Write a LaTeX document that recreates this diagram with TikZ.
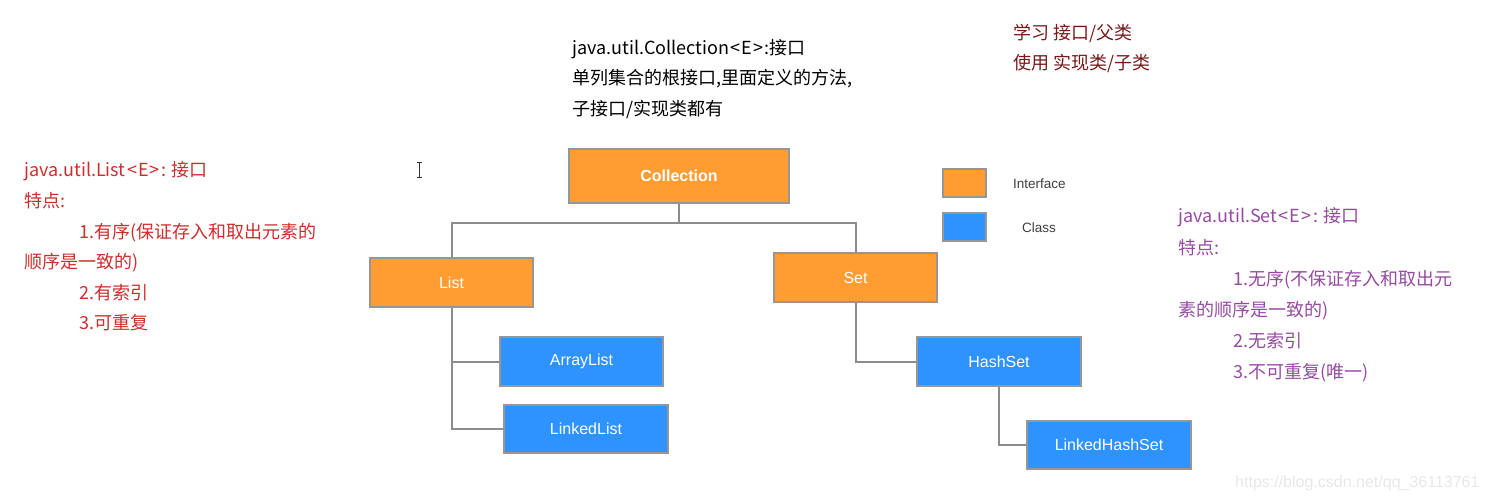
\documentclass[tikz,border=0pt]{standalone}
\usepackage{fontspec}
\setmainfont{Noto Sans CJK SC}
\newfontfamily\boxfont{Liberation Sans}
\definecolor{ifaceorange}{RGB}{255,157,51}
\definecolor{classblue}{RGB}{46,146,255}
\definecolor{boxborder}{RGB}{150,150,150}
\definecolor{connline}{RGB}{140,140,140}
\definecolor{listred}{RGB}{205,45,45}
\definecolor{setpurple}{RGB}{150,75,160}
\definecolor{noteRed}{RGB}{120,25,25}
\definecolor{wmark}{RGB}{232,232,232}
\newcommand{\gen}{\kern1.5pt<\kern1pt E\kern1pt>\kern1.5pt}
\begin{document}
\begin{tikzpicture}[x=1pt,y=-1pt,
  boxbase/.style={draw=boxborder, line width=1.5pt, inner sep=0pt, text=white,
    font=\boxfont\fontsize{16}{16}\selectfont},
  iface/.style={boxbase, fill=ifaceorange},
  klass/.style={boxbase, fill=classblue},
  conn/.style={draw=connline, line width=2pt},
  txt/.style={anchor=base west, inner sep=0pt, font=\fontsize{18}{20}\selectfont},
  legendtxt/.style={anchor=base west, inner sep=0pt, text=black!75, font=\boxfont\fontsize{13.5}{14}\selectfont}
]
\useasboundingbox (0,0) rectangle (1485,501);
\fill[white] (0,0) rectangle (1485,501);

% connectors (drawn first, under the boxes)
\node[iface, minimum width=220pt, minimum height=54pt, font=\boxfont\bfseries\fontsize{16}{16}\selectfont] (coll) at (679,176) {Collection};
\node[iface, minimum width=163pt, minimum height=49pt] (list) at (451.5,282.5) {List};
\node[iface, minimum width=163pt, minimum height=49pt] (set) at (855.5,277.5) {Set};
\node[klass, minimum width=163pt, minimum height=49pt] (al) at (581.5,361.5) {ArrayList};
\node[klass, minimum width=164pt, minimum height=48pt] (ll) at (586,429) {LinkedList};
\node[klass, minimum width=164pt, minimum height=49pt] (hs) at (999,361.5) {HashSet};
\node[klass, minimum width=164pt, minimum height=48pt] (lhs) at (1109,445) {LinkedHashSet};

\coordinate (split) at ([yshift=-19pt]coll.south);
\draw[conn] (coll.south) -- (split);
\draw[conn] (split) -| (list.north);
\draw[conn] (split) -| (set.north);
\draw[conn] (list.south) |- (al.west);
\draw[conn] (list.south) |- (ll.west);
\draw[conn] (set.south) |- (hs.west);
\draw[conn] (hs.south) |- (lhs.west);

% legend
\node[iface, minimum width=43pt, minimum height=28pt] (legI) at (964.5,183) {};
\node[klass, minimum width=43pt, minimum height=28pt] (legC) at (964.5,227) {};
\node[legendtxt] (legIt) at (1013,188) {Interface};
\node[legendtxt] (legCt) at (1022,232) {Class};

% top center note
\node[txt] (c1) at (572,54) {java.util.Collection\gen:接口};
\node[txt] (c2) at (572,84) {单列集合的根接口,里面定义的方法,};
\node[txt] (c3) at (572,115) {子接口/实现类都有};

% top right note
\node[txt, text=noteRed] (n1) at (1013,39) {学习 接口/父类};
\node[txt, text=noteRed] (n2) at (1013,69) {使用 实现类/子类};

% left (List) note
\node[txt, text=listred] (l1) at (24,176) {java.util.List\gen: 接口};
\node[txt, text=listred] (l2) at (24,207) {特点:};
\node[txt, text=listred] (l3) at (79,238) {1.有序(保证存入和取出元素的};
\node[txt, text=listred] (l4) at (24,268) {顺序是一致的)};
\node[txt, text=listred] (l5) at (79,299) {2.有索引};
\node[txt, text=listred] (l6) at (79,329) {3.可重复};

% right (Set) note
\node[txt, text=setpurple] (s1) at (1178,222) {java.util.Set\gen: 接口};
\node[txt, text=setpurple] (s2) at (1178,254) {特点:};
\node[txt, text=setpurple] (s3) at (1233,285) {1.无序(不保证存入和取出元};
\node[txt, text=setpurple] (s4) at (1178,316) {素的顺序是一致的)};
\node[txt, text=setpurple] (s5) at (1233,347) {2.无索引};
\node[txt, text=setpurple] (s6) at (1233,378) {3.不可重复(唯一)};

% text cursor
\draw[black!80, line width=1pt] (419,163) -- (419,177) (416.5,162.5) -- (421.5,162.5) (416.5,177.5) -- (421.5,177.5);

% watermark
\node[anchor=base west, inner sep=0pt, text=wmark, font=\boxfont\fontsize{16}{16}\selectfont] (wm) at (1235,487) {https://blog.csdn.net/qq\_36113761};
\end{tikzpicture}
\end{document}
